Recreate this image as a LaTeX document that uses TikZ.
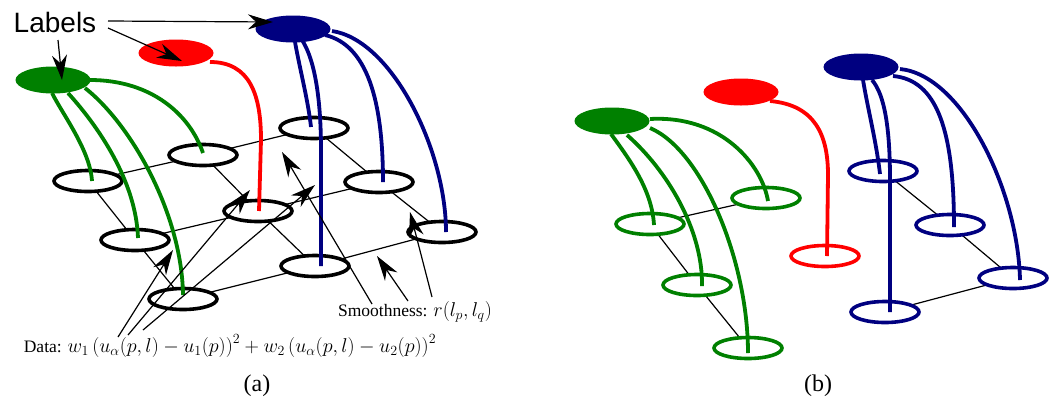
\RequirePackage{fix-cm}
\documentclass[tikz,border=0pt]{standalone}
\usepackage{fontspec}
\setmainfont{Liberation Serif}
\newfontfamily\labfont{Liberation Sans}
\usetikzlibrary{arrows.meta,shapes.geometric,calc}
\definecolor{lgreen}{RGB}{0,128,0}
\definecolor{lnavy}{RGB}{0,0,128}
\definecolor{lred}{RGB}{255,0,0}
\newcommand{\bigmath}[1]{{\fontsize{20}{22}\selectfont$#1$}}
\begin{document}
\begin{tikzpicture}[x=1pt,y=-1pt,
  site/.style={ellipse,draw=black,line width=3.6pt,fill=white,minimum width=68pt,minimum height=21pt,inner sep=0pt},
  lab/.style={ellipse,fill=#1,minimum width=75pt,minimum height=27pt,inner sep=0pt},
  gridln/.style={black,line width=1.2pt},
  cv/.style={#1,line width=3.8pt},
  arr/.style={black,line width=1.2pt,-{Stealth[length=25pt,width=15pt,inset=8pt]}},
  txt/.style={font=\fontsize{17.5}{20}\selectfont},
  captext/.style={font=\fontsize{24}{27}\selectfont}]
\useasboundingbox (0,0) rectangle (1049,400);

% ---------------- panel (a) ----------------
\coordinate (A1) at (88,181);
\coordinate (A2) at (203,155);
\coordinate (A3) at (314,128);
\coordinate (B1) at (135,240);
\coordinate (B2) at (258,211);
\coordinate (B3) at (379,182);
\coordinate (C1) at (183,299);
\coordinate (C2) at (315,266);
\coordinate (C3) at (442,232);
\draw[gridln] (A1)--(A2)--(A3) (B1)--(B2)--(B3) (C1)--(C2)--(C3)
            (A1)--(B1)--(C1) (A2)--(B2)--(C2) (A3)--(B3)--(C3);
\foreach \n in {A1,A2,A3,B1,B2,B3,C1,C2,C3}
  \node[site] (e\n) at (\n) {};

% label ellipses positions
\coordinate (GLa) at (53,80);
\coordinate (RLa) at (176,53);
\coordinate (BLa) at (293,29);

% green curves
\draw[cv=lgreen] (52,93) .. controls (63,115) and (90,150) .. ([xshift=4pt]eA1.center);
\draw[cv=lgreen] (68,93) .. controls (97,125) and (136,180) .. ([xshift=3pt,yshift=2pt]eB1.center);
\draw[cv=lgreen] (85,88) .. controls (132,125) and (182,215) .. ([yshift=4pt]eC1.center);
\draw[cv=lgreen] (90,80) .. controls (152,80) and (190,115) .. ([yshift=2pt]eA2.center);
% red curve
\draw[cv=lred] (210,62) .. controls (250,62) and (261,95) .. (261,140) -- ([xshift=1pt]eB2.center);
% blue curves
\draw[cv=lnavy] (295,42) .. controls (300,70) and (308,100) .. ([xshift=-3pt,yshift=1pt]eA3.center);
\draw[cv=lnavy] (302,40) .. controls (315,60) and (321,100) .. (321,150) -- ([xshift=6pt]eC2.center);
\draw[cv=lnavy] (325,35) .. controls (367,45) and (383,100) .. ([xshift=4pt]eB3.center);
\draw[cv=lnavy] (332,31) .. controls (392,40) and (446,150) .. ([xshift=4pt]eC3.center);

\node[lab=lgreen] (gla) at (GLa) {};
\node[lab=lred] (rla) at (RLa) {};
\node[lab=lnavy] (bla) at (BLa) {};

% Labels text and arrows
\node[font=\labfont\fontsize{28}{30}\selectfont,inner sep=0pt] (labels) at (55,22) {Labels};
\coordinate (lb1) at (108,21);
\coordinate (lb2) at (108,28);
\coordinate (lb3) at (58,40);
\draw[arr] (lb1) -- ([xshift=-20pt,yshift=7pt]bla.center);
\draw[arr] (lb2) -- ([xshift=6pt,yshift=-8pt]rla.center);
\draw[arr] (lb3) -- ([xshift=9pt]gla.center);

% Data text and arrows
\node[txt,inner sep=0pt] (data) at (230,346)
  {Data: \bigmath{w_1\left(u_\alpha(p,l)-u_1(p)\right)^2+w_2\left(u_\alpha(p,l)-u_2(p)\right)^2}};
\coordinate (d1) at (118,337);
\coordinate (d2) at (128,335);
\coordinate (d3) at (143,330);
\coordinate (dt1) at (173,250);
\coordinate (dt2) at (250,190);
\coordinate (dt3) at (315,185);
\draw[arr] (d1) -- (dt1);
\draw[arr] (d2) -- (dt2);
\draw[arr] (d3) -- (dt3);

% Smoothness text and arrows
\node[txt,inner sep=0pt] (smooth) at (415,312) {Smoothness: \bigmath{r(l_p,l_q)}};
\coordinate (s1) at (372,304);
\coordinate (s2) at (408,301);
\coordinate (s3) at (432,297);
\coordinate (st1) at (282,152);
\coordinate (st2) at (377,256);
\coordinate (st3) at (410,212);
\draw[arr] (s1) -- (st1);
\draw[arr] (s2) -- (st2);
\draw[arr] (s3) -- (st3);

\node[captext] (capa) at (257,386) {(a)};

% ---------------- panel (b) ----------------
\coordinate (gA1) at (650,224);
\coordinate (gA2) at (766,198);
\coordinate (gB1) at (697,285);
\coordinate (gC1) at (748,348);
\coordinate (rB2) at (825,256);
\coordinate (bA3) at (883,171);
\coordinate (bB3) at (950,225);
\coordinate (bC3) at (1013,278);
\coordinate (bC2) at (885,312);
\draw[gridln] (gA2)--(gA1)--(gB1)--(gC1) (bA3)--(bB3)--(bC3)--(bC2);
\foreach \n in {gA1,gA2,gB1,gC1}
  \node[site,draw=lgreen] (e\n) at (\n) {};
\node[site,draw=lred] (erB2) at (rB2) {};
\foreach \n in {bA3,bB3,bC3,bC2}
  \node[site,draw=lnavy] (e\n) at (\n) {};

\coordinate (GLb) at (612,121);
\coordinate (RLb) at (741,92);
\coordinate (BLb) at (861,67);

\draw[cv=lgreen] (611,134) .. controls (630,160) and (652,190) .. ([xshift=4pt,yshift=-1pt]egA1.center);
\draw[cv=lgreen] (627,135) .. controls (667,170) and (703,230) .. ([xshift=5pt,yshift=-1pt]egB1.center);
\draw[cv=lgreen] (650,128) .. controls (702,150) and (748,260) .. ([yshift=-5pt]egC1.center);
\draw[cv=lgreen] (650,119) .. controls (722,115) and (762,165) .. ([xshift=2pt,yshift=-3pt]egA2.center);
\draw[cv=lred] (770,101) .. controls (815,105) and (828,135) .. (828,175) -- ([xshift=2pt]erB2.center);
\draw[cv=lnavy] (863,80) .. controls (868,110) and (876,140) .. ([xshift=-3pt,yshift=-3pt]ebA3.center);
\draw[cv=lnavy] (872,80) .. controls (885,95) and (890,130) .. (890,180) -- ([xshift=5pt]ebC2.center);
\draw[cv=lnavy] (893,76) .. controls (937,80) and (954,130) .. ([xshift=4pt,yshift=-2pt]ebB3.center);
\draw[cv=lnavy] (900,69) .. controls (962,75) and (1018,190) .. ([xshift=7pt,yshift=-2pt]ebC3.center);

\node[lab=lgreen] (glb) at (GLb) {};
\node[lab=lred] (rlb) at (RLb) {};
\node[lab=lnavy] (blb) at (BLb) {};

\node[captext] (capb) at (818,386) {(b)};
\end{tikzpicture}
\end{document}
